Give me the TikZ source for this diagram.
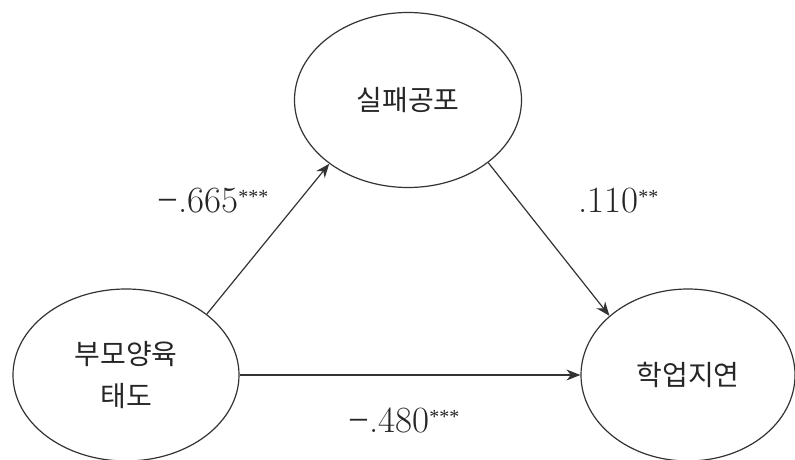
\documentclass[tikz,border=0pt]{standalone}
\usepackage{fontspec}
\newfontfamily\krfont{Noto Sans CJK KR}
\newfontfamily\minusfont{Liberation Serif}
\usetikzlibrary{shapes.geometric,arrows.meta}
\newcommand\sigstars[1]{\raisebox{9pt}{\fontsize{20}{20}\selectfont\minusfont #1}}
\newcommand\negsign{{\minusfont −}}
\begin{document}
\begin{tikzpicture}[x=1pt,y=-1pt,
  latent/.style={draw=black!80, line width=1.2pt, ellipse, inner sep=0pt,
    font=\krfont\fontsize{28}{42}\selectfont, text=black!85, align=center},
  pathline/.style={draw=black!80, line width=1.2pt, -{Stealth[length=14pt,width=11pt]}},
  coef/.style={anchor=base west, inner sep=0pt, font=\fontsize{37}{40}\selectfont, text=black!85}]
\useasboundingbox (0,0) rectangle (795,460);
\node[latent, minimum width=227pt, minimum height=175pt] (fear) at (408,100) {실패공포};
\node[latent, minimum width=226pt, minimum height=172pt] (parent) at (126,375) {부모양육\\태도};
\node[latent, minimum width=214pt, minimum height=172pt] (delay) at (688,375) {학업지연};
\draw[pathline] (parent.37) -- (fear.219);
\draw[pathline] (fear.-38) -- (delay.143);
\draw[pathline] (parent.east) -- (delay.west);
\node[coef] (c1) at (157,212) {\negsign.665\sigstars{***}};
\node[coef] (c2) at (578,212) {.110\sigstars{**}};
\node[coef] (c3) at (348,432) {\negsign.480\sigstars{***}};
\end{tikzpicture}
\end{document}
